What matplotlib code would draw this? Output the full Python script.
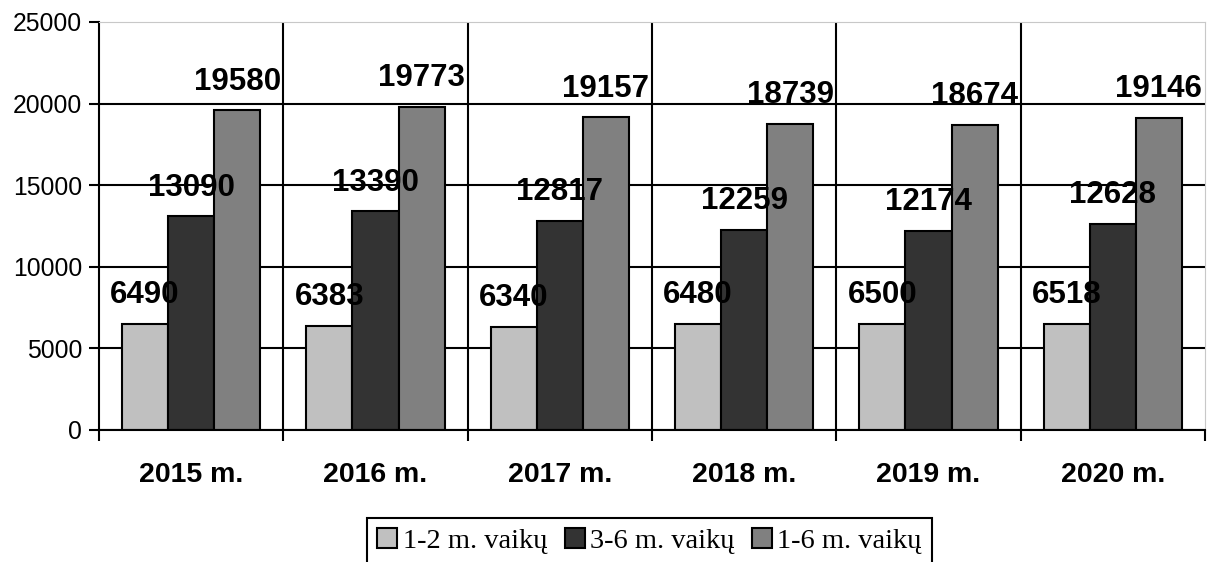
import numpy as np
import matplotlib
matplotlib.use("Agg")
import matplotlib.pyplot as plt
from matplotlib.patches import Patch

years = ["2015 m.", "2016 m.", "2017 m.", "2018 m.", "2019 m.", "2020 m."]
series_names = ["1-2 m. vaikų", "3-6 m. vaikų", "1-6 m. vaikų"]
vals_1_2 = [6490, 6383, 6340, 6480, 6500, 6518]
vals_3_6 = [13090, 13390, 12817, 12259, 12174, 12628]
vals_1_6 = [19580, 19773, 19157, 18739, 18674, 19146]
colors = ["#c0c0c0", "#333333", "#808080"]

plt.rcParams['font.family'] = ['Liberation Sans', 'DejaVu Sans']

fig = plt.figure(figsize=(12.19, 5.62), dpi=100)
ax = fig.add_axes([0.0812, 0.2349, 0.9073, 0.726])

x = np.arange(len(years))
w = 0.25
for i, vals in enumerate([vals_1_2, vals_3_6, vals_1_6]):
    xs = x + (i - 1) * w
    ax.bar(xs, vals, width=w, color=colors[i], edgecolor="black",
           linewidth=1.5, zorder=2)
    for xi, v in zip(xs, vals):
        ax.annotate(str(v), (xi, v), xytext=(0, 15), textcoords="offset points",
                    ha="center", va="baseline", fontsize=22.5,
                    fontweight="bold", zorder=5)

ax.set_xlim(-0.5, len(years) - 0.5)
ax.set_ylim(0, 25000)
ax.set_yticks(np.arange(0, 25001, 5000))
ax.tick_params(axis="y", labelsize=17.8, length=7, width=1.5, pad=5)

# category labels in the middle, tick marks at the boundaries
ax.set_xticks(x)
ax.set_xticklabels(years, fontsize=20.5, fontweight="bold")
ax.tick_params(axis="x", which="major", length=0, pad=23)
ax.set_xticks(np.arange(-0.5, len(years)), minor=True)
ax.tick_params(axis="x", which="minor", length=8, width=1.5)

ax.set_axisbelow(True)
ax.yaxis.grid(True, color="black", linewidth=1.5, zorder=0)
ax.get_ygridlines()[-1].set_visible(False)
for b in np.arange(0.5, len(years) - 1):
    ax.axvline(b, color="black", linewidth=1.5, zorder=0)

ax.spines["left"].set_linewidth(1.5)
ax.spines["bottom"].set_linewidth(1.5)
ax.spines["top"].set_color("#c8c8c8")
ax.spines["right"].set_color("#c8c8c8")

handles = [Patch(facecolor=c, edgecolor="black", linewidth=1.5) for c in colors]
leg = fig.legend(handles, series_names, loc="upper center",
                 bbox_to_anchor=(0.533, 0.078), ncol=3, frameon=True,
                 fancybox=False, edgecolor="black", framealpha=1,
                 prop={"family": "Liberation Serif", "size": 20.5},
                 handlelength=0.7, handleheight=0.7, handletextpad=0.2,
                 columnspacing=0.6, borderpad=0.35, borderaxespad=0)
leg.get_frame().set_linewidth(1.5)

fig.savefig("out.png", dpi=100)
